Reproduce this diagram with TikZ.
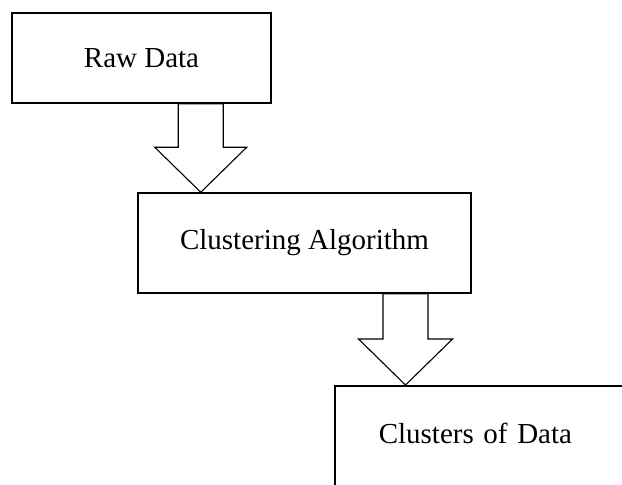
\documentclass[tikz,border=0pt]{standalone}
\usepackage{fontspec}
\setmainfont{Liberation Serif}
\usetikzlibrary{calc}

\begin{document}
\begin{tikzpicture}[x=1pt, y=-1pt,
  box/.style = {draw, rectangle, line width=1.5pt, font=\fontsize{29}{34}\selectfont},
  fat/.style = {draw, fill=white, line width=1.1pt, line join=miter}]
      \useasboundingbox (0,0) rectangle (622,485);
      \clip (0,0) rectangle (622,485);

      \node[box, minimum width=259pt, minimum height=90pt] (raw) at (141.5,58) {Raw Data};
      \node[box, minimum width=333pt, minimum height=100pt] (cluster) at (304.5,243) {Clustering Algorithm};
      \node[box, anchor=north west, inner xsep=44pt, inner ysep=38pt, text width=300pt, align=left,
            text height=20pt, text depth=100pt] (clusters) at (334,385) {Clusters of Data};

      \coordinate (t1) at ($(cluster.north west)+(63.5,0)$);
      \coordinate (t2) at ($(clusters.north west)+(71.5,0)$);

      \draw[fat] let \p1=(t1 |- raw.south), \p2=(t1) in
        (\x1-22.5pt,\y1) -- (\x1-22.5pt,\y2+45pt) -- (\x1-46pt,\y2+45pt) -- (\p2)
        -- (\x1+46pt,\y2+45pt) -- (\x1+22.5pt,\y2+45pt) -- (\x1+22.5pt,\y1) -- cycle;
      \draw[fat] let \p1=(t2 |- cluster.south), \p2=(t2) in
        (\x1-22.5pt,\y1) -- (\x1-22.5pt,\y2+46pt) -- (\x1-47pt,\y2+46pt) -- (\p2)
        -- (\x1+47pt,\y2+46pt) -- (\x1+22.5pt,\y2+46pt) -- (\x1+22.5pt,\y1) -- cycle;
\end{tikzpicture}
\end{document}
